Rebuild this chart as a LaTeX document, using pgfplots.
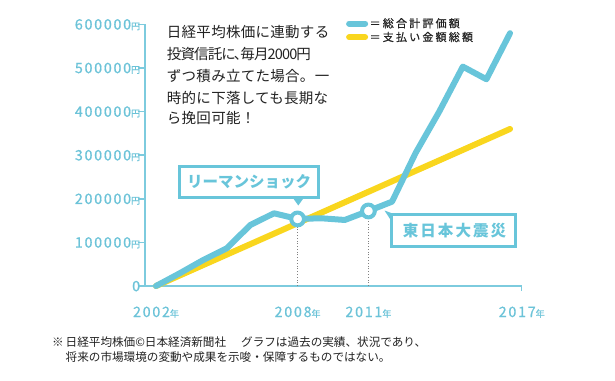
\documentclass[border=0pt]{standalone}
\usepackage{fontspec}
\setmainfont{Noto Sans CJK JP}
\usepackage{pgfplots}
\pgfplotsset{compat=1.18}
\definecolor{lineblue}{RGB}{104,197,218}
\definecolor{axisblue}{RGB}{125,203,222}
\definecolor{labelblue}{RGB}{108,195,216}
\definecolor{yellowc}{RGB}{249,214,30}
\definecolor{txt}{RGB}{34,34,34}
\newcommand\en{{\fontsize{9bp}{9bp}\selectfont 円}}
\newcommand\nen{{\fontsize{9bp}{9bp}\selectfont 年}}
\newcommand\tickfont{\fontsize{14.3bp}{14.3bp}\selectfont\addfontfeatures{LetterSpace=12,FakeBold=0.8}}
\newcommand\annfont{\fontsize{14.5bp}{14.5bp}\selectfont\addfontfeatures{LetterSpace=2}}
\newcommand\legfont{\fontsize{11bp}{11bp}\selectfont\addfontfeatures{LetterSpace=20,FakeBold=0.6}}
\newcommand\notefont{\fontsize{11.6bp}{11.6bp}\selectfont}
\begin{document}
\begin{tikzpicture}[x=1bp,y=1bp]
\path[use as bounding box] (0,0) rectangle (615,380);
\begin{axis}[
  at={(145.3bp,94bp)}, anchor=south west,
  scale only axis, width=376.4bp, height=261.7bp,
  xmin=2001.547, xmax=2017.495, ymin=0, ymax=600000,
  axis x line=bottom, axis y line=left,
  axis line style={-, draw=axisblue, line width=1.8bp},
  xtick={2002,2008,2011,2017.495},
  xticklabels={2002\nen,2008\nen,2011\nen,2017\nen},
  ytick={0,100000,200000,300000,400000,500000,600000},
  yticklabels={0,100000\en,200000\en,300000\en,400000\en,500000\en,600000\en},
  scaled y ticks=false,
  tick align=outside, major tick length=7bp,
  ytick style={draw=axisblue, line width=1.5bp},
  xtick style={draw=none},
  ticklabel style={font=\tickfont, text=labelblue, inner sep=0pt},
  yticklabel style={anchor=base east, yshift=-5.2bp, xshift=2bp},
  xticklabel style={anchor=base, yshift=-24bp},
  clip=false,
  legend style={at={(axis description cs:0.533,1.03)}, anchor=north west, draw=none, fill=none,
    inner sep=0pt, font=\legfont, text=txt, row sep=0bp,
    nodes={inner sep=1.5bp}},
  legend cell align=left,
  legend image code/.code={\draw[#1, line width=6bp, line cap=round] (3bp,0bp) -- (19bp,0bp);},
]
\addlegendimage{lineblue}
\addlegendentry{＝総合計評価額}
\addlegendimage{yellowc}
\addlegendentry{＝支払い金額総額}
\addplot[gray, dotted, line width=0.8bp, forget plot] coordinates {(2008,0) (2008,153700)};
\addplot[gray, dotted, line width=0.8bp, forget plot] coordinates {(2011,0) (2011,172000)};
\addplot[yellowc, line width=6bp, line cap=round, forget plot] coordinates {(2002,0) (2017,360000)};
\addplot[lineblue, line width=6bp, line join=round, line cap=round, forget plot] coordinates {
 (2002,0) (2003,29000) (2004,59600) (2005,86500) (2006,140000) (2007,166700)
 (2008,153700) (2009,155300) (2010,151400) (2011,172000) (2012,193300)
 (2013,305000) (2014,399800) (2015,503000) (2016,474000) (2017,579600)};
\addplot[only marks, mark=*, mark size=6.4bp, mark options={draw=lineblue, fill=white, line width=4bp}, forget plot]
 coordinates {(2008,153700) (2011,172000)};
\draw[axisblue, line width=1.5bp] (axis cs:2017.495,0) -- ++(0bp,-5bp);
\end{axis}
% annotation text
\begin{scope}[every node/.style={anchor=base west, inner sep=0pt, font=\annfont, text=txt}]
\node at (166.7,{380-37.8}) {日経平均株価に連動する};
\node at (166.7,{380-59.8}) {\addfontfeatures{RawFeature=+palt,LetterSpace=-6}投資信託に、毎月2000円};
\node at (166.7,{380-81.5}) {ずつ積み立てた場合。一};
\node at (166.7,{380-103.2}) {時的に下落しても長期な};
\node at (166.7,{380-123.8}) {ら挽回可能！};
\end{scope}
% callout 1
\draw[lineblue, line width=3bp, fill=white] (179.5,{380-166.5}) rectangle (318.5,{380-197.8});
\fill[lineblue] (293.3,{380-198.5}) -- (303.3,{380-198.5}) -- (298.3,{380-205.5}) -- cycle;
\node[font=\fontsize{15.5bp}{15.5bp}\selectfont\bfseries, text=lineblue, inner sep=0pt] at (249,{380-182}) {リーマンショック};
% callout 2
\draw[lineblue, line width=3bp, fill=white] (391.5,{380-214.8}) rectangle (515.2,{380-246.2});
\fill[lineblue] (392,{380-213.3}) -- (384.5,{380-210.5}) -- (392,{380-222}) -- cycle;
\node[font=\fontsize{15.5bp}{15.5bp}\selectfont\bfseries\addfontfeatures{LetterSpace=13}, text=lineblue, inner sep=0pt] at (454.5,{380-230.5}) {東日本大震災};
% footnote
\begin{scope}[every node/.style={anchor=base west, inner sep=0pt, font=\notefont, text=txt}]
\node at (52,{380-346.1}) {※};
\node at (65.5,{380-346.1}) {日経平均株価©日本経済新聞社\hspace{15bp}グラフは過去の実績、状況であり、};
\node at (65.5,{380-361.9}) {将来の市場環境の変動や成果を示唆・保障するものではない。};
\end{scope}
\end{tikzpicture}
\end{document}
